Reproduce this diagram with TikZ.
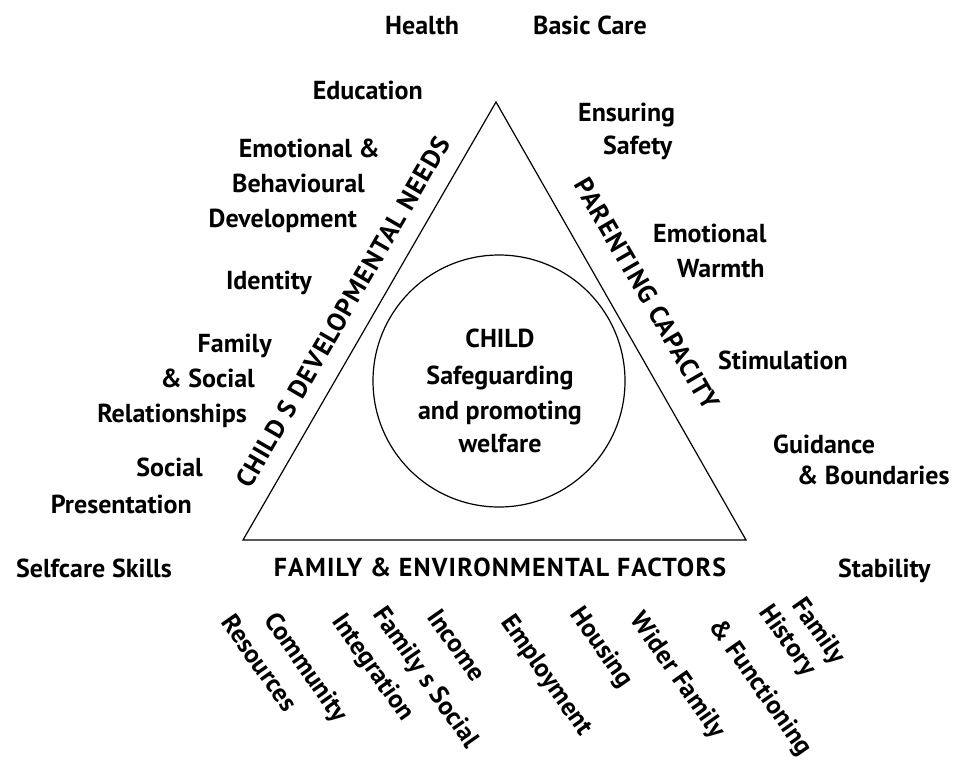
\documentclass[tikz,border=0pt]{standalone}
\usepackage{fontspec}
\setmainfont{PT Sans}
\newfontfamily\capsfont{PT Sans}[LetterSpace=4.5]
\begin{document}
\begin{tikzpicture}[x=1pt,y=-1pt,
  lbl/.style={font=\fontsize{26}{35}\selectfont\bfseries, inner sep=0pt},
  capslbl/.style={font=\fontsize{26}{35}\selectfont\capsfont\bfseries, inner sep=0pt, anchor=center},
  botlbl/.style={font=\fontsize{26}{35}\selectfont\bfseries, inner sep=0pt, anchor=center, rotate=-55},
  edge/.style={draw=black, line width=1.2pt, line join=miter}]
\useasboundingbox (0,0) rectangle (966,772);
% triangle
\coordinate (apex) at (496,102);
\coordinate (bl) at (243,540);
\coordinate (br) at (746,540);
\draw[edge] (apex) -- (bl) -- (br) -- cycle;
% circle
\node[draw=black, line width=1.2pt, circle, minimum size=252pt, inner sep=0pt] (child) at (499,381) {};
\node[lbl, anchor=base] (c1) at (500,347) {CHILD};
\node[lbl, anchor=base] (c2) at (500,384) {Safeguarding};
\node[lbl, anchor=base] (c3) at (500,419) {and promoting};
\node[lbl, anchor=base] (c4) at (500,452) {welfare};
% side labels
\node[capslbl, rotate=60] (cdn) at (343,312) {CHILD S DEVELOPMENTAL NEEDS};
\node[capslbl, rotate=-60] (pc) at (647,294) {PARENTING CAPACITY};
\node[capslbl, anchor=base] (fef) at (500,576) {FAMILY \& ENVIRONMENTAL FACTORS};
% top labels
\node[lbl, anchor=base west] (health) at (385,34) {Health};
\node[lbl, anchor=base west] (basic) at (533,34) {Basic Care};
% left labels (right aligned ends)
\node[lbl, anchor=base east] (edu) at (423,99) {Education};
\node[lbl, anchor=base east] (emo1) at (380,157) {Emotional \&};
\node[lbl, anchor=base east] (emo2) at (365,192) {Behavioural};
\node[lbl, anchor=base east] (emo3) at (357,227) {Development};
\node[lbl, anchor=base east] (ident) at (312,289) {Identity};
\node[lbl, anchor=base east] (fam1) at (272,352) {Family};
\node[lbl, anchor=base east] (fam2) at (255,387) {\& Social};
\node[lbl, anchor=base east] (fam3) at (247,422) {Relationships};
\node[lbl, anchor=base east] (soc1) at (203,476) {Social};
\node[lbl, anchor=base east] (soc2) at (192,513) {Presentation};
\node[lbl, anchor=base east] (self) at (172,577) {Selfcare Skills};
% right labels (left aligned starts)
\node[lbl, anchor=base west] (ens1) at (578,121) {Ensuring};
\node[lbl, anchor=base west] (ens2) at (603,154) {Safety};
\node[lbl, anchor=base west] (warm1) at (653,242) {Emotional};
\node[lbl, anchor=base west] (warm2) at (677,277) {Warmth};
\node[lbl, anchor=base west] (stim) at (718,369) {Stimulation};
\node[lbl, anchor=base west] (guid1) at (773,453) {Guidance};
\node[lbl, anchor=base west] (guid2) at (797,484) {\& Boundaries};
\node[lbl, anchor=base west] (stab) at (838,577) {Stability};
% bottom rotated labels
\node[botlbl] (comm1) at (305,668) {Community};
\node[botlbl] (comm2) at (260,663) {Resources};
\node[botlbl] (fsi1) at (425,678) {Family s Social};
\node[botlbl] (fsi2) at (372,668) {Integration};
\node[botlbl] (inc) at (457,645) {Income};
\node[botlbl] (emp) at (546,676) {Employment};
\node[botlbl] (hous) at (601,648) {Housing};
\node[botlbl] (wider) at (677,676) {Wider Family};
\node[botlbl] (fh1) at (818,632) {Family};
\node[botlbl] (fh2) at (787,641) {History};
\node[botlbl] (fh3) at (760,688) {\& Functioning};
\end{tikzpicture}
\end{document}
